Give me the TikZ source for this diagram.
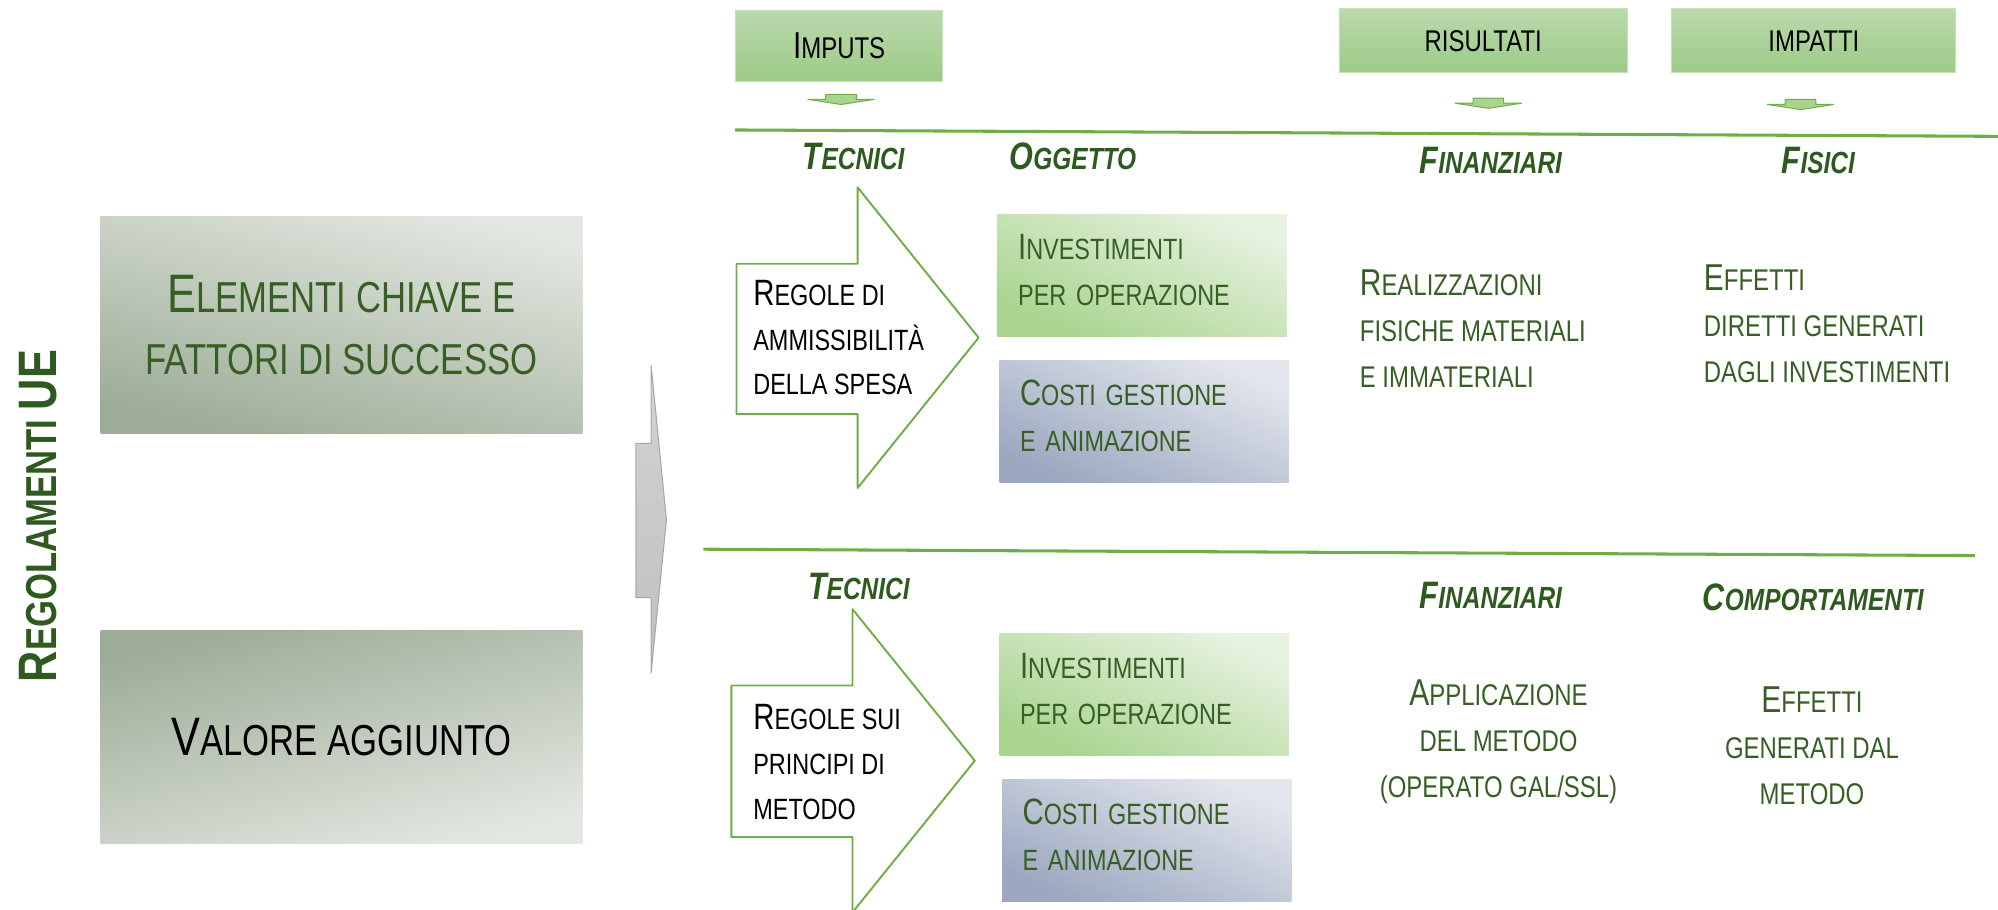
\documentclass[tikz,border=0pt]{standalone}
\usepackage{fontspec}
\setmainfont{Liberation Sans}[FakeStretch=0.8]
\usepackage{graphicx}
\definecolor{dkgreen}{HTML}{375F25}
\definecolor{hdgreen}{HTML}{2E5A1F}
\definecolor{lgreen}{HTML}{70AD47}
\definecolor{htop}{HTML}{BAD9AC}
\definecolor{hbot}{HTML}{9DCB87}
\definecolor{hborder}{HTML}{C5E0B4}
\definecolor{kdark}{HTML}{9DAD97}
\definecolor{klight}{HTML}{E3E7E1}
\definecolor{idark}{HTML}{A8D48E}
\definecolor{ilight}{HTML}{E7F2E0}
\definecolor{cdark}{HTML}{9CA8C0}
\definecolor{clight}{HTML}{E3E6ED}
\newcommand\fcap[2]{\scalebox{1.25}{#1}#2}
\begin{document}
\begin{tikzpicture}[x=1pt,y=-1pt,line join=round,
  gline/.style={draw=lgreen,line width=2.4pt},
  hbox/.style={draw=hborder,line width=0.8pt,top color=htop,bottom color=hbot,
    font=\fontsize{23.5}{23.5}\selectfont},
  keybox/.style={minimum width=378,minimum height=170,align=center,
    font=\fontsize{34}{49}\selectfont},
  invbox/.style={bottom color=idark,top color=ilight,shading angle=-25,
    minimum height=96,inner xsep=16,text width=195,text depth=45,align=left,text=dkgreen,
    font=\fontsize{23}{36}\selectfont},
  costbox/.style={invbox,bottom color=cdark,top color=clight,shading angle=-25},
  cat/.style={text=hdgreen,font=\fontsize{24}{24}\selectfont\bfseries\itshape},
  body/.style={text=dkgreen,font=\fontsize{23.5}{36}\selectfont},
  rule/.style={font=\fontsize{23}{35}\selectfont,align=left,anchor=west,inner sep=0},
  bigarrow/.style={draw=lgreen,line width=1.5pt,fill=white},
  tinyarrow/.style={draw=lgreen,line width=0.8pt,fill=idark}]
\useasboundingbox (0,0) rectangle (1568,714);
\clip (0,0) rectangle (1568,714);
% title on the left
\node[rotate=90,text=hdgreen,font=\fontsize{34}{34}\selectfont\bfseries] (reg) at (30,405)
  {\fcap{R}{EGOLAMENTI} \scalebox{1.25}{UE}};
\node[keybox,bottom color=kdark,top color=klight,shading angle=-15,text=dkgreen] (chiave) at (268,255)
  {\fcap{E}{LEMENTI CHIAVE E}\\FATTORI DI SUCCESSO};
\node[keybox,top color=kdark,bottom color=klight,shading angle=15,minimum height=167] (valore) at (268,578.5)
  {\fcap{V}{ALORE AGGIUNTO}};
% grey arrow
\draw[draw=black!35,line width=0.8pt,top color=black!17,bottom color=black!25]
  (499,348)--(511,348)--(511,287)--(523,408)--(511,528)--(511,469)--(499,469)--cycle;
% headers
\node[hbox,minimum width=163,minimum height=56] (imputs) at (658.5,36) {\fcap{I}{MPUTS}};
\node[hbox,minimum width=226,minimum height=50] (risultati) at (1164,32) {RISULTATI};
\node[hbox,minimum width=223,minimum height=50] (impatti) at (1423.5,32) {IMPATTI};
\foreach \x/\y in {660/74,1168/77,1413/78}
  \draw[tinyarrow] (\x-12,\y)--(\x+12,\y)--(\x+12,\y+4)--(\x+26,\y+4)--(\x,\y+8)
    --(\x-26,\y+4)--(\x-12,\y+4)--cycle;
\draw[gline] (577,102)--(1568,107);
\draw[gline] (552,431)--(1550,436);
% upper part
\node[cat] (tec1) at (670,123) {\fcap{T}{ECNICI}};
\node[cat] (ogg) at (842,123) {\fcap{O}{GGETTO}};
\node[cat] (fin1) at (1170,126) {\fcap{F}{INANZIARI}};
\node[cat] (fis) at (1427,126) {\fcap{F}{ISICI}};
\draw[bigarrow] (578,207)--(673,207)--(673,147)--(768,265)--(673,383)--(673,325)--(578,325)--cycle;
\node[rule] (amm) at (591,265) {\fcap{R}{EGOLE DI}\\AMMISSIBILITÀ\\DELLA SPESA};
\node[invbox] (inv1) at (896.5,216) {\fcap{I}{NVESTIMENTI}\\PER OPERAZIONE};
\node[costbox] (cost1) at (898,331) {\fcap{C}{OSTI GESTIONE}\\E ANIMAZIONE};
\node[body,align=left,anchor=west,inner sep=0] (real) at (1067,258)
  {\fcap{R}{EALIZZAZIONI}\\FISICHE MATERIALI\\E IMMATERIALI};
\node[body,align=left,anchor=west,inner sep=0] (eff1) at (1337,254)
  {\fcap{E}{FFETTI}\\DIRETTI GENERATI\\DAGLI INVESTIMENTI};
% lower part
\node[cat] (tec2) at (674,460) {\fcap{T}{ECNICI}};
\node[cat] (fin2) at (1170,467) {\fcap{F}{INANZIARI}};
\node[cat] (comp) at (1423,469) {\fcap{C}{OMPORTAMENTI}};
\draw[bigarrow] (574,538)--(669,538)--(669,478)--(765,597)--(669,716)--(669,657)--(574,657)--cycle;
\node[rule] (princ) at (591,598) {\fcap{R}{EGOLE SUI}\\PRINCIPI DI\\METODO};
\node[invbox] (inv2) at (898,545) {\fcap{I}{NVESTIMENTI}\\PER OPERAZIONE};
\node[costbox] (cost2) at (900,659.5) {\fcap{C}{OSTI GESTIONE}\\E ANIMAZIONE};
\node[body,align=center,inner sep=0] (appl) at (1176,582)
  {\fcap{A}{PPLICAZIONE}\\DEL METODO\\(OPERATO GAL/SSL)};
\node[body,align=center,inner sep=0] (eff2) at (1422,585)
  {\fcap{E}{FFETTI}\\GENERATI DAL\\METODO};
\end{tikzpicture}
\end{document}
